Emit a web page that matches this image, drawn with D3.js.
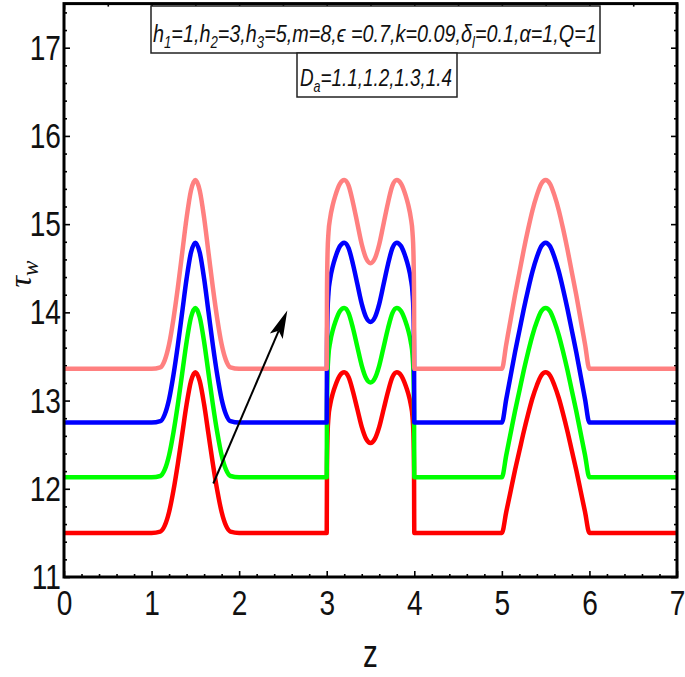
<!DOCTYPE html>
<html>
<head>
<meta charset="utf-8">
<script src="https://cdn.jsdelivr.net/npm/d3@7"></script>
<style>
body{margin:0;background:#fff;}
</style>
</head>
<body>
<div id="chart"></div>
<script>
var zValues = [0, 1.0, 1.1, 1.15, 1.2, 1.25, 1.3, 1.35, 1.4, 1.45, 1.5, 1.55, 1.6, 1.65, 1.7, 1.75, 1.8, 1.85, 1.9, 2.0,
	3.0, 3.003, 3.01, 3.02, 3.04, 3.07, 3.1, 3.15, 3.2, 3.25, 3.3, 3.35, 3.4, 3.45, 3.5, 3.55, 3.6, 3.65, 3.7, 3.75, 3.8, 3.85, 3.9, 3.93, 3.96, 3.98, 3.99, 3.997, 4.0,
	5.0, 5.05, 5.1, 5.15, 5.2, 5.25, 5.3, 5.35, 5.4, 5.45, 5.5, 5.55, 5.6, 5.65, 5.7, 5.75, 5.8, 5.85, 5.9, 5.95, 6.0, 7.0];

// D_a = 1.1
var tauDa11 = [11.50, 11.50, 11.515, 11.582, 11.737, 11.982, 12.283, 12.619, 12.956, 13.220, 13.32, 13.220, 12.956, 12.619, 12.283, 11.982, 11.737, 11.582, 11.515, 11.50,
	11.50, 12.228, 12.628, 12.810, 12.956, 13.083, 13.174, 13.284, 13.32, 13.265, 13.102, 12.901, 12.701, 12.565, 12.519, 12.565, 12.701, 12.901, 13.102, 13.265, 13.32, 13.284, 13.174, 13.083, 12.956, 12.810, 12.628, 12.228, 11.50,
	11.50, 11.737, 11.973, 12.210, 12.428, 12.647, 12.847, 13.029, 13.174, 13.284, 13.32, 13.284, 13.174, 13.029, 12.847, 12.647, 12.428, 12.210, 11.973, 11.737, 11.50, 11.50];
// D_a = 1.2
var tauDa12 = [12.13, 12.13, 12.145, 12.216, 12.380, 12.639, 12.956, 13.311, 13.666, 13.944, 14.05, 13.944, 13.666, 13.311, 12.956, 12.639, 12.380, 12.216, 12.145, 12.13,
	12.13, 12.898, 13.320, 13.512, 13.666, 13.800, 13.896, 14.012, 14.05, 13.992, 13.820, 13.608, 13.397, 13.253, 13.205, 13.253, 13.397, 13.608, 13.820, 13.992, 14.05, 14.012, 13.896, 13.800, 13.666, 13.512, 13.320, 12.898, 12.13,
	12.13, 12.380, 12.629, 12.879, 13.109, 13.340, 13.551, 13.743, 13.896, 14.012, 14.05, 14.012, 13.896, 13.743, 13.551, 13.340, 13.109, 12.879, 12.629, 12.380, 12.13, 12.13];
// D_a = 1.3
var tauDa13 = [12.75, 12.75, 12.766, 12.842, 13.015, 13.291, 13.627, 14.005, 14.382, 14.678, 14.79, 14.678, 14.382, 14.005, 13.627, 13.291, 13.015, 12.842, 12.766, 12.75,
	12.75, 13.566, 14.015, 14.219, 14.382, 14.525, 14.627, 14.749, 14.79, 14.729, 14.545, 14.321, 14.096, 13.943, 13.892, 13.943, 14.096, 14.321, 14.545, 14.729, 14.79, 14.749, 14.627, 14.525, 14.382, 14.219, 14.015, 13.566, 12.75,
	12.75, 13.015, 13.280, 13.546, 13.790, 14.035, 14.260, 14.464, 14.627, 14.749, 14.79, 14.749, 14.627, 14.464, 14.260, 14.035, 13.790, 13.546, 13.280, 13.015, 12.75, 12.75];
// D_a = 1.4
var tauDa14 = [13.36, 13.36, 13.377, 13.456, 13.638, 13.927, 14.280, 14.676, 15.072, 15.382, 15.50, 15.382, 15.072, 14.676, 14.280, 13.927, 13.638, 13.456, 13.377, 13.36,
	13.36, 14.216, 14.687, 14.901, 15.072, 15.222, 15.329, 15.457, 15.50, 15.436, 15.243, 15.008, 14.772, 14.612, 14.558, 14.612, 14.772, 15.008, 15.243, 15.436, 15.50, 15.457, 15.329, 15.222, 15.072, 14.901, 14.687, 14.216, 13.36,
	13.36, 13.638, 13.916, 14.195, 14.451, 14.708, 14.944, 15.158, 15.329, 15.457, 15.50, 15.457, 15.329, 15.158, 14.944, 14.708, 14.451, 14.195, 13.916, 13.638, 13.36, 13.36];

var xTicks = [0, 1, 2, 3, 4, 5, 6, 7];
var yTicks = [11, 12, 13, 14, 15, 16, 17];
var arrowStart = [1.705, 12.06];
var arrowEnd = [2.55, 14.02];

var seriesList = [tauDa11, tauDa12, tauDa13, tauDa14];
var seriesColors = ["#ff0000", "#00ff00", "#0000ff", "#ff8080"];

(function(){
	var width = 685, height = 677;
	var x = d3.scaleLinear().domain([0, 7]).range([64, 677]),
		y = d3.scaleLinear().domain([11, 17.5]).range([577, 3.6]);
	var narrow = "scale(0.78,1)";
	//
	var svg = d3.select("#chart").append("svg")
		.attr("width", width).attr("height", height)
		.style("font-family", "'Liberation Sans', Arial, sans-serif");
	//
	svg.append("clipPath").attr("id", "plotClip")
		.append("rect")
		.attr("x", x(0)).attr("y", y(17.5))
		.attr("width", x(7) - x(0)).attr("height", y(11) - y(17.5));
	//
	function notWhole(v){ return Math.abs(v - Math.round(v)) > 1e-6; }
	var minorX = d3.range(0, 35).map(function(i){ return i / 5; }).filter(notWhole),
		minorY = d3.range(55, 88).map(function(i){ return i / 5; }).filter(notWhole),
		halfX = [0.5, 1.5, 2.5, 3.5, 4.5, 5.5, 6.5];
	// ticks, all pointing inward
	function tickAxis(axis, tx, ty, vals, size, labels){
		var g = svg.append("g").attr("transform", "translate(" + tx + "," + ty + ")")
			.call(axis.tickValues(vals).tickSizeInner(-size).tickSizeOuter(0)
				.tickFormat(labels ? d3.format("d") : ""));
		g.select(".domain").remove();
		g.selectAll("line").attr("stroke", "#000").attr("stroke-width", 1.6);
		return g;
	}
	var bottom = tickAxis(d3.axisBottom(x).tickPadding(12), 0, y(11), xTicks, 6, true);
	tickAxis(d3.axisBottom(x), 0, y(11), minorX, 3, false);
	tickAxis(d3.axisTop(x), 0, y(17.5), xTicks, 6, false);
	tickAxis(d3.axisTop(x), 0, y(17.5), halfX, 3, false);
	var left = tickAxis(d3.axisLeft(y).tickPadding(4), x(0), 0, yTicks, 6, true);
	tickAxis(d3.axisLeft(y), x(0), 0, minorY, 3, false);
	tickAxis(d3.axisRight(y), x(7), 0, yTicks, 6, false);
	tickAxis(d3.axisRight(y), x(7), 0, minorY, 3, false);
	//
	[bottom, left].forEach(function(g){
		g.selectAll("text")
			.attr("font-size", 36)
			.attr("fill", "#111")
			.attr("font-family", "'Liberation Sans', Arial, sans-serif")
			.attr("transform", narrow);
	});
	//
	var line = d3.line()
		.x(function(d, i){ return x(zValues[i]); })
		.y(function(d){ return y(d); })
		.curve(d3.curveMonotoneX);
	//
	svg.append("g").attr("clip-path", "url(#plotClip)")
		.selectAll("path")
		.data(seriesList)
		.enter()
		.append("path")
		.attr("d", line)
		.attr("fill", "none")
		.attr("stroke", function(d, i){ return seriesColors[i]; })
		.attr("stroke-width", 4.5)
		.attr("stroke-linejoin", "round");
	//
	// frame
	svg.append("rect")
		.attr("x", x(0)).attr("y", y(17.5))
		.attr("width", x(7) - x(0)).attr("height", y(11) - y(17.5))
		.attr("fill", "none").attr("stroke", "#000").attr("stroke-width", 3);
	//
	// arrow
	var ax0 = x(arrowStart[0]), ay0 = y(arrowStart[1]),
		ax1 = x(arrowEnd[0]), ay1 = y(arrowEnd[1]);
	var ang = Math.atan2(ay1 - ay0, ax1 - ax0),
		headLen = 28, headHalf = 7;
	var bx = ax1 - headLen * Math.cos(ang), by = ay1 - headLen * Math.sin(ang);
	svg.append("line")
		.attr("x1", ax0).attr("y1", ay0)
		.attr("x2", bx + 6 * Math.cos(ang)).attr("y2", by + 6 * Math.sin(ang))
		.attr("stroke", "#000").attr("stroke-width", 2);
	svg.append("path")
		.attr("d", "M" + ax1 + "," + ay1 +
			"L" + (bx + headHalf * Math.sin(ang)) + "," + (by - headHalf * Math.cos(ang)) +
			"L" + (bx + 6 * Math.cos(ang)) + "," + (by + 6 * Math.sin(ang)) +
			"L" + (bx - headHalf * Math.sin(ang)) + "," + (by + headHalf * Math.cos(ang)) + "Z")
		.attr("fill", "#000");
	//
	// parameter boxes
	svg.append("rect").attr("x", 151).attr("y", 6).attr("width", 449).attr("height", 47)
		.attr("fill", "#fff").attr("stroke", "#222").attr("stroke-width", 1.5);
	svg.append("rect").attr("x", 297).attr("y", 53).attr("width", 160).attr("height", 44)
		.attr("fill", "#fff").attr("stroke", "#222").attr("stroke-width", 1.5);
	//
	// text squeezed sideways to the width it has in the figure
	function richText(tx, ty, len, parts){
		var g = svg.append("g");
		var t = g.append("text").attr("x", 0).attr("y", 0)
			.attr("font-size", 24).attr("font-style", "italic").attr("fill", "#111");
		var shift = 0;
		parts.forEach(function(p){
			var sub = p.charAt(0) === "_";
			var s = t.append("tspan").text(sub ? p.slice(1) : p);
			if(sub){ s.attr("dy", 6 - shift).attr("font-size", 16); shift = 6; }
			else { s.attr("dy", -shift); shift = 0; }
		});
		var w = t.node().getComputedTextLength();
		g.attr("transform", "translate(" + tx + "," + ty + ") scale(" + (len / w) + ",1)");
	}
	richText(153, 42, 444, ["h", "_1", "=1,h", "_2", "=3,h", "_3", "=5,m=8,\u03f5 =0.7,k=0.09,\u03b4", "_l", "=0.1,\u03b1=1,Q=1"]);
	richText(300, 86, 152, ["D", "_a", "=1.1,1.2,1.3,1.4"]);
	//
	// axis titles
	var midX = (x(0) + x(7)) / 2;
	svg.append("text").attr("x", 0).attr("y", 0)
		.attr("text-anchor", "middle").attr("font-size", 38).attr("fill", "#111")
		.attr("transform", "translate(" + midX + ",667) " + narrow)
		.text("z");
	var yt = svg.append("text")
		.attr("transform", "translate(31,274) rotate(-90)")
		.attr("text-anchor", "middle").attr("font-size", 32).attr("fill", "#111")
		.attr("font-family", "'Liberation Serif', serif").attr("font-style", "italic");
	yt.append("tspan").text("\u03c4");
	yt.append("tspan").attr("dy", 7).attr("font-size", 23).text("w");
})();
</script>
</body>
</html>
